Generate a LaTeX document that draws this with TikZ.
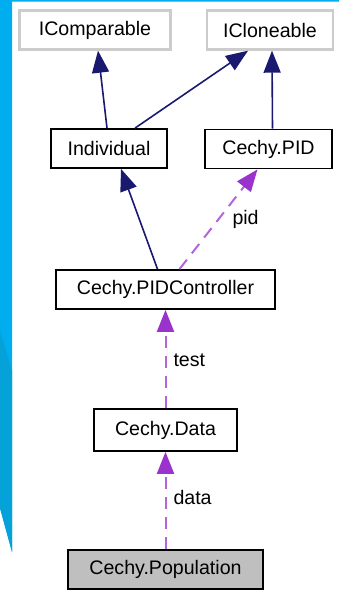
\documentclass[tikz,border=0pt]{standalone}
\usepackage{fontspec}
\setmainfont{Liberation Sans}
\usetikzlibrary{arrows.meta}
\definecolor{slideblue}{HTML}{00AEEF}
\definecolor{slidedark}{HTML}{05A2DA}
\definecolor{inherit}{HTML}{191970}
\definecolor{usage}{HTML}{9A32CD}
\begin{document}
\begin{tikzpicture}[x=0.5pt,y=-0.5pt,
    cls/.style={draw=black,line width=0.9pt,fill=white,minimum height=19.5pt,
      inner sep=0pt,font=\fontsize{9.8}{12}\selectfont},
    iface/.style={cls,draw=black!20,line width=1.2pt},
    root/.style={cls,fill=black!25},
    lbl/.style={inner sep=1pt,font=\fontsize{9.8}{12}\selectfont},
    gen/.style={-{Triangle[length=11pt,width=8.5pt]},draw=inherit,line width=0.8pt},
    use/.style={-{Triangle[length=11pt,width=8.5pt,color=usage]},draw=usage!75,
      line width=1pt,dash pattern=on 6pt off 4pt}]
      % slide background
      \fill[slideblue] (0,0) -- (339,0) -- (339,1.5) -- (12,1.5) -- (12,552) -- (0,508) -- cycle;
      \fill[slidedark] (0,330) -- (12,370) -- (12,552) -- (0,508) -- cycle;
      \useasboundingbox (0,0) rectangle (339,590);
      \draw
        (95,30) node[iface,minimum width=75.5pt] (icomp){IComparable}
        (270,30) node[iface,minimum width=63pt] (iclone){ICloneable}
        (109,148.5) node[cls,minimum width=58pt] (indiv){Individual}
        (268.5,149) node[cls,minimum width=63.5pt] (pid){Cechy.PID}
        (165.5,289.5) node[cls,minimum width=109.5pt] (ctrl){Cechy.PIDController}
        (165.5,430) node[cls,minimum width=71.5pt,minimum height=21pt] (data){Cechy.Data}
        (165.5,569.5) node[root,minimum width=97.5pt] (pop){Cechy.Population};
      \begin{scope}
        \draw[gen] ([xshift=-1pt]indiv.north) to ([xshift=1.5pt]icomp.south);
        \draw[gen] ([xshift=13pt]indiv.north) to ([xshift=-11pt]iclone.south);
        \draw[gen] ([xshift=2pt]pid.north) to ([xshift=1pt]iclone.south);
        \draw[gen] ([xshift=-4pt]ctrl.north) to ([xshift=6pt]indiv.south);
        \draw[use] ([xshift=7pt]ctrl.north) to node[lbl,right=5.5pt]{pid} ([xshift=-5.5pt]pid.south);
        \draw[use] (data.north) to node[lbl,right=2.5pt,pos=0.49]{test} (ctrl.south);
        \draw[use] (pop.north) to node[lbl,right=2.5pt,pos=0.535]{data} (data.south);
      \end{scope}
    \end{tikzpicture}
\end{document}
